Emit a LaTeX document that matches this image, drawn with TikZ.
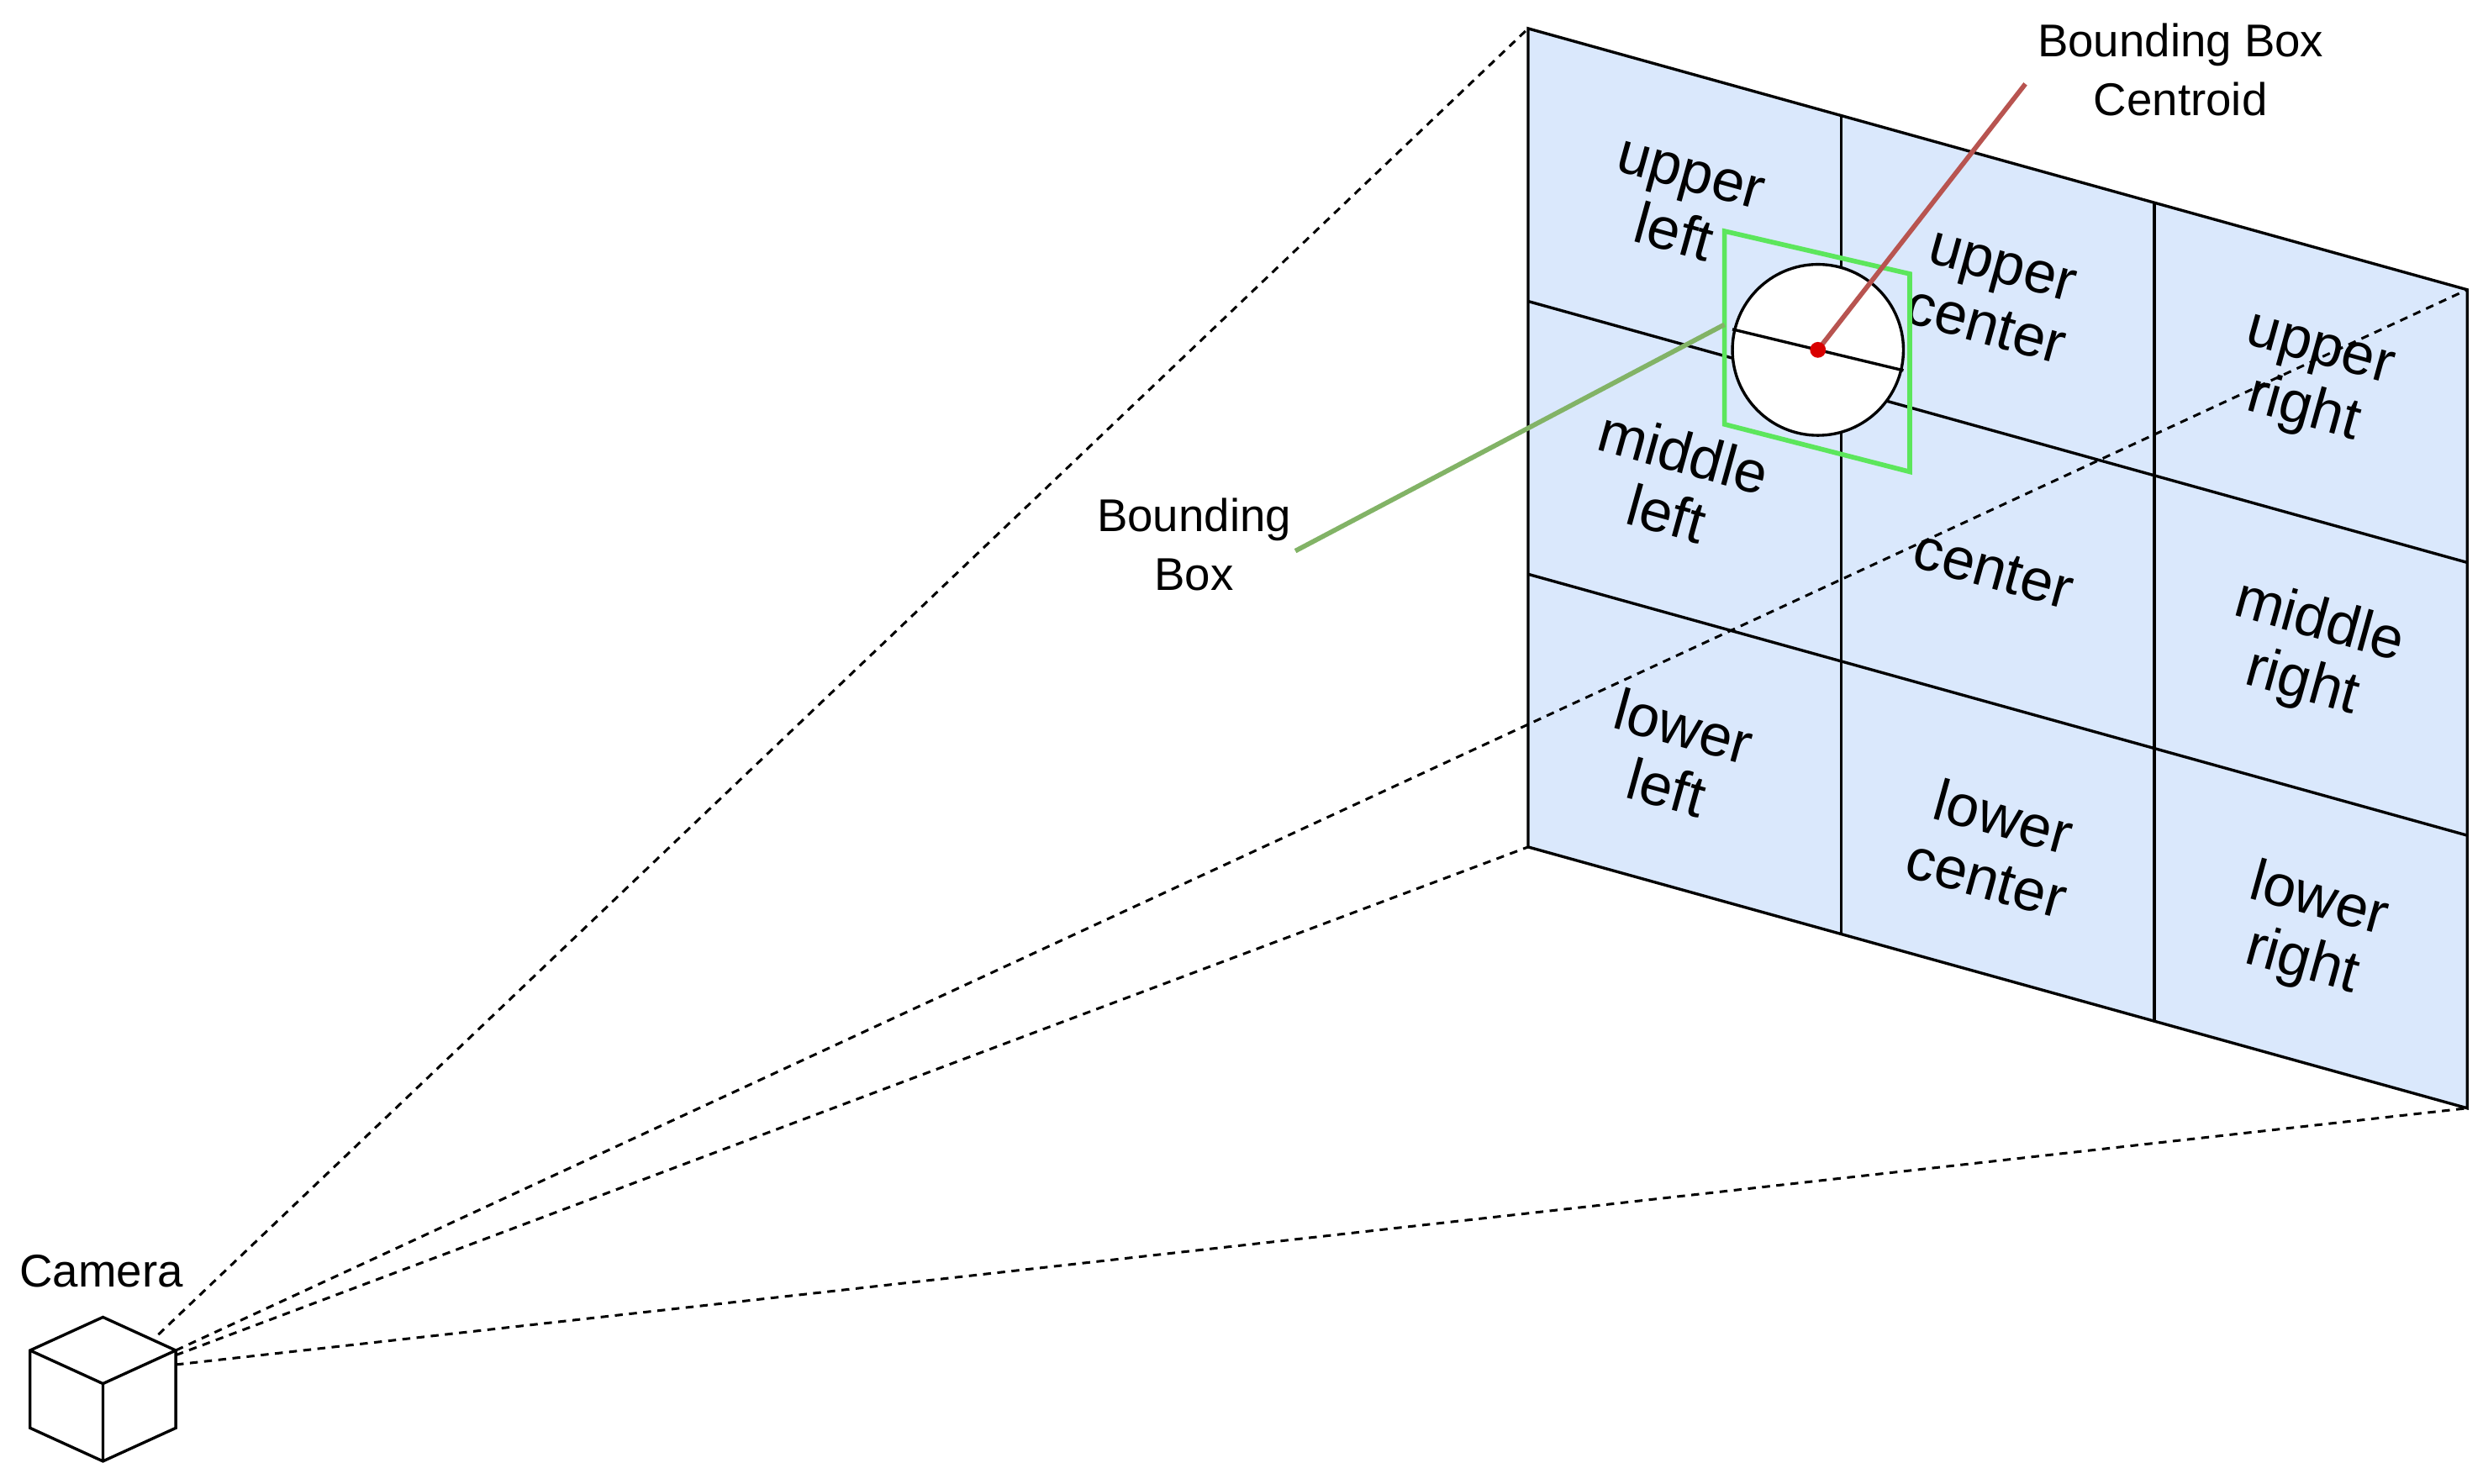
\documentclass[tikz,border=0pt]{standalone}
\usepackage{fontspec}
\setmainfont{Liberation Sans}
\usetikzlibrary{calc}
\definecolor{cellblue}{HTML}{DAE8FC}
\definecolor{bbgreen}{HTML}{5CE65C}
\definecolor{lgreen}{HTML}{82B366}
\definecolor{lred}{HTML}{B85450}
\begin{document}
\begin{tikzpicture}[x=1pt,y=-1pt,
  cell/.style={font=\fontsize{37}{40}\selectfont,align=center,rotate=-15.5},
  lab/.style={font=\fontsize{29}{37}\selectfont,align=center},
  ray/.style={dash pattern=on 5pt off 4pt,line width=1.6pt}]
\useasboundingbox (0,0) rectangle (1568,937);
\coordinate (TL) at (965,18);
\coordinate (TR) at (1558,183);
\coordinate (BR) at (1558,700);
\coordinate (BL) at (965,535);
\fill[cellblue] (TL)--(TR)--(BR)--(BL)--cycle;
\draw[line width=1.8pt] (TL)--(TR)--(BR)--(BL)--cycle;
\foreach \f in {0.3333,0.6667}{
  \draw[line width=1.8pt] ($(TL)!\f!(TR)$) -- ($(BL)!\f!(BR)$);
  \draw[line width=1.8pt] ($(TL)!\f!(BL)$) -- ($(TR)!\f!(BR)$);
}
\node[cell] (ul) at (1062,130) {upper\\left};
\node[cell] (uc) at (1259,188) {upper\\center};
\node[cell] (ur) at (1459,243) {upper\\right};
\node[cell] (ml) at (1058,305) {middle\\left};
\node[cell] (c) at (1259,360) {center};
\node[cell] (mr) at (1459,413) {middle\\right};
\node[cell] (ll) at (1058,478) {lower\\left};
\node[cell] (lc) at (1260,535) {lower\\center};
\node[cell] (lr) at (1459,589) {lower\\right};
% bounding box
\draw[bbgreen,line width=3pt] (1089,146)--(1206,173)--(1206,298)--(1089,268)--cycle;
\draw[fill=white,line width=1.8pt] (1148,221) circle (54);
\draw[line width=1.8pt] (1094,208) -- (1202,234);
\coordinate (cen) at (1148,221);
\node[lab] (bbc) at (1377,44) {Bounding Box\\Centroid};
\draw[lred,line width=3pt] (cen) -- (1279,53);
\fill[red!85!black] (cen) circle (5);
\node[lab] (bb) at (754,344) {Bounding\\Box};
\draw[lgreen,line width=3pt] (1089,205) -- (818,348);
% camera
\coordinate (c1) at (65,832);
\coordinate (c2) at (111,853);
\coordinate (c3) at (111,902);
\coordinate (c4) at (65,923);
\coordinate (c5) at (19,902);
\coordinate (c6) at (19,853);
\coordinate (c0) at (65,874);
\draw[line width=1.8pt,fill=white] (c1)--(c2)--(c3)--(c4)--(c5)--(c6)--cycle;
\draw[line width=1.8pt] (c6)--(c0)--(c2) (c0)--(c4);
\node[lab] (cam) at (64,803) {Camera};
\coordinate (r1) at (100,843);
\coordinate (r2) at (111,853);
\coordinate (r3) at (111,856);
\coordinate (r4) at (111,862);
\draw[ray] (r1) -- (TL);
\draw[ray] (r2) -- (TR);
\draw[ray] (r3) -- (BL);
\draw[ray] (r4) -- (BR);
\end{tikzpicture}
\end{document}
